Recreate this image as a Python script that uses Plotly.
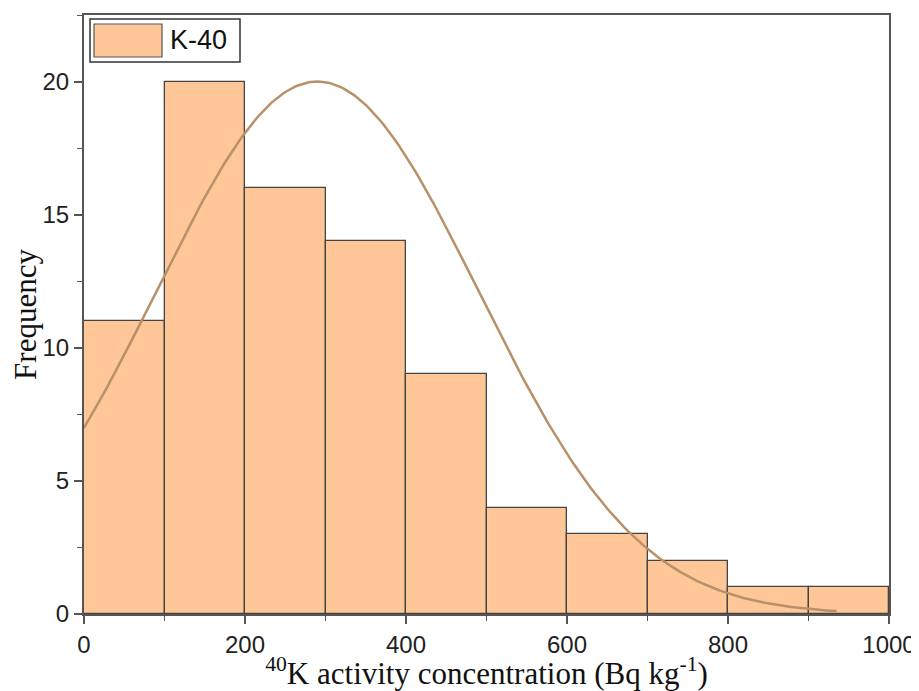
import numpy as np
import plotly.graph_objects as go

# Histogram data (bin edges and counts)
bin_starts = [0, 100, 200, 300, 400, 500, 600, 700, 800, 900]
bin_width = 100
counts = [11, 20, 16, 14, 9, 4, 3, 2, 1, 1]

# Normal fit curve parameters
fit_mean = 290
fit_sd = 200
fit_peak = 20
fit_xmin = 0
fit_xmax = 935

x_ticks = [0, 200, 400, 600, 800, 1000]
y_ticks = [0, 5, 10, 15, 20]

bar_color = "#FFC797"
edge_color = "#444444"
curve_color = "#B8906A"

fig = go.Figure()
fig.add_trace(go.Bar(
    x=[s + bin_width / 2 for s in bin_starts],
    y=counts,
    width=[bin_width] * len(counts),
    marker=dict(color=bar_color, line=dict(color=edge_color, width=1.3)),
    name="K-40",
    showlegend=False,
))

xc = np.linspace(fit_xmin, fit_xmax, 300)
yc = fit_peak * np.exp(-((xc - fit_mean) ** 2) / (2 * fit_sd ** 2))
fig.add_trace(go.Scatter(
    x=xc, y=yc, mode="lines",
    line=dict(color=curve_color, width=2.5),
    showlegend=False, hoverinfo="skip",
))

axis_common = dict(
    showline=True, linecolor="#555555", linewidth=2, mirror=True,
    ticks="outside", ticklen=8, tickwidth=1.5, tickcolor="#555555",
    showgrid=False, zeroline=False, automargin=False,
    tickfont=dict(family="Liberation Sans, Arial, sans-serif", size=24, color="#222222"),
)
title_font = dict(family="Liberation Serif, Times New Roman, serif", size=31, color="#111111")

# The page body has an 8px default margin, so the figure is sized to fit the window
fig.update_layout(
    width=911, height=683,
    margin=dict(l=76, r=30, t=7, b=77),
    plot_bgcolor="white", paper_bgcolor="white",
    bargap=0,
    xaxis=dict(
        range=[0, 1000], tickvals=x_ticks,
        minor=dict(ticks="outside", ticklen=5, dtick=100, tickcolor="#555555", tickwidth=1.2),
        title=dict(text="<sup>40</sup>K activity concentration (Bq kg<sup>-1</sup>)",
                   font=title_font, standoff=0),
        **axis_common,
    ),
    yaxis=dict(
        range=[0, 22.5], tickvals=y_ticks,
        minor=dict(ticks="outside", ticklen=5, dtick=2.5, tickcolor="#555555", tickwidth=1.2),
        title=dict(text="Frequency", font=title_font, standoff=8),
        **axis_common,
    ),
)

# Custom legend box
fig.add_shape(type="rect", xref="paper", yref="paper",
              x0=6 / 805, x1=156 / 805, y0=(614 - 62) / 599, y1=(614 - 19) / 599,
              line=dict(color="#333333", width=1.5), fillcolor="white", layer="above")
fig.add_shape(type="rect", xref="paper", yref="paper",
              x0=10 / 805, x1=78 / 805, y0=(614 - 57) / 599, y1=(614 - 24) / 599,
              line=dict(color="#555555", width=1.2), fillcolor=bar_color, layer="above")
fig.add_annotation(xref="paper", yref="paper", x=84 / 805, y=(614 - 40) / 599,
                   text="K-40", showarrow=False, xanchor="left", yanchor="middle",
                   font=dict(family="Liberation Sans, Arial, sans-serif", size=27, color="#111111"))

fig.write_html("out.html")
